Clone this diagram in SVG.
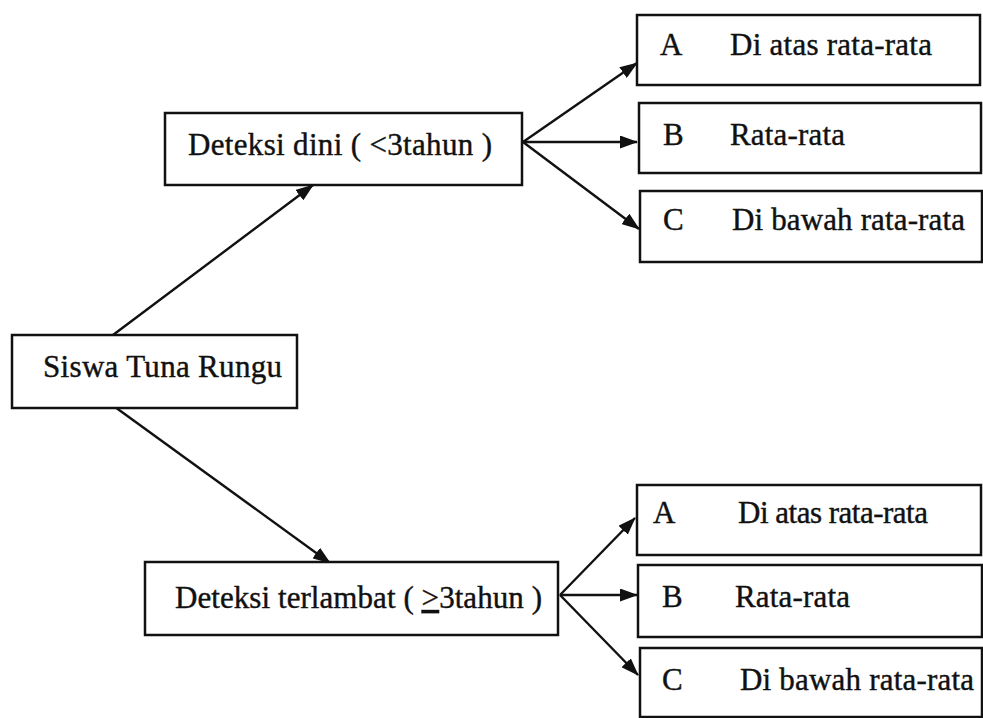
<svg xmlns="http://www.w3.org/2000/svg" width="983" height="718" viewBox="0 0 983 718">
<style>
.box{fill:#fff;stroke:#111;stroke-width:2.5}
.t{font-family:"Liberation Serif","Times New Roman",serif;font-size:31px;fill:#111;stroke:#111;stroke-width:0.4}
.c{stroke:#111;stroke-width:2.4;fill:none}
</style>
<defs>
<marker id="ah" viewBox="0 0 18 13" refX="17" refY="6.5" markerWidth="18" markerHeight="13" markerUnits="userSpaceOnUse" orient="auto">
<path d="M0,0 L18,6.5 L0,13 Z" fill="#111"/>
</marker>
</defs>
<rect width="983" height="718" fill="#fff"/>
<g id="connectors">
<line class="c" x1="113" y1="335" x2="313" y2="185" marker-end="url(#ah)"/>
<line class="c" x1="115" y1="407" x2="330" y2="563" marker-end="url(#ah)"/>
<line class="c" x1="523" y1="142" x2="637" y2="63" marker-end="url(#ah)"/>
<line class="c" x1="523" y1="142" x2="637" y2="142" marker-end="url(#ah)"/>
<line class="c" x1="523" y1="142" x2="639" y2="229" marker-end="url(#ah)"/>
<line class="c" x1="560" y1="595" x2="635" y2="518" marker-end="url(#ah)"/>
<line class="c" x1="560" y1="595" x2="637" y2="595" marker-end="url(#ah)"/>
<line class="c" x1="560" y1="595" x2="638" y2="675" marker-end="url(#ah)"/>
</g>
<g id="siswa">
<rect class="box" x="12" y="335" width="285" height="73"/>
<text class="t" x="43" y="377" textLength="239">Siswa Tuna Rungu</text>
</g>
<g id="dini">
<rect class="box" x="165" y="113" width="357" height="72"/>
<text class="t" x="188" y="155" textLength="304">Deteksi dini ( &lt;3tahun )</text>
</g>
<g id="terlambat">
<rect class="box" x="145" y="562" width="413" height="73"/>
<text class="t" x="175" y="608" textLength="367">Deteksi terlambat ( <tspan text-decoration="underline">&gt;</tspan>3tahun )</text>
</g>
<g id="dini-a">
<rect class="box" x="637" y="15" width="343" height="70"/>
<text class="t" x="660" y="55">A</text>
<text class="t" x="730" y="55" textLength="202">Di atas rata-rata</text>
</g>
<g id="dini-b">
<rect class="box" x="639" y="103" width="342" height="70"/>
<text class="t" x="663" y="145">B</text>
<text class="t" x="730" y="145" textLength="115">Rata-rata</text>
</g>
<g id="dini-c">
<rect class="box" x="640" y="191" width="342" height="71"/>
<text class="t" x="663" y="230">C</text>
<text class="t" x="732" y="230" textLength="233">Di bawah rata-rata</text>
</g>
<g id="terlambat-a">
<rect class="box" x="637" y="485" width="344" height="70"/>
<text class="t" x="653" y="523">A</text>
<text class="t" x="738" y="523" textLength="190">Di atas rata-rata</text>
</g>
<g id="terlambat-b">
<rect class="box" x="638" y="565" width="344" height="72"/>
<text class="t" x="662" y="607">B</text>
<text class="t" x="735" y="607" textLength="115">Rata-rata</text>
</g>
<g id="terlambat-c">
<rect class="box" x="640" y="648" width="342" height="69"/>
<text class="t" x="662" y="690">C</text>
<text class="t" x="740" y="690" textLength="234">Di bawah rata-rata</text>
</g>
</svg>
